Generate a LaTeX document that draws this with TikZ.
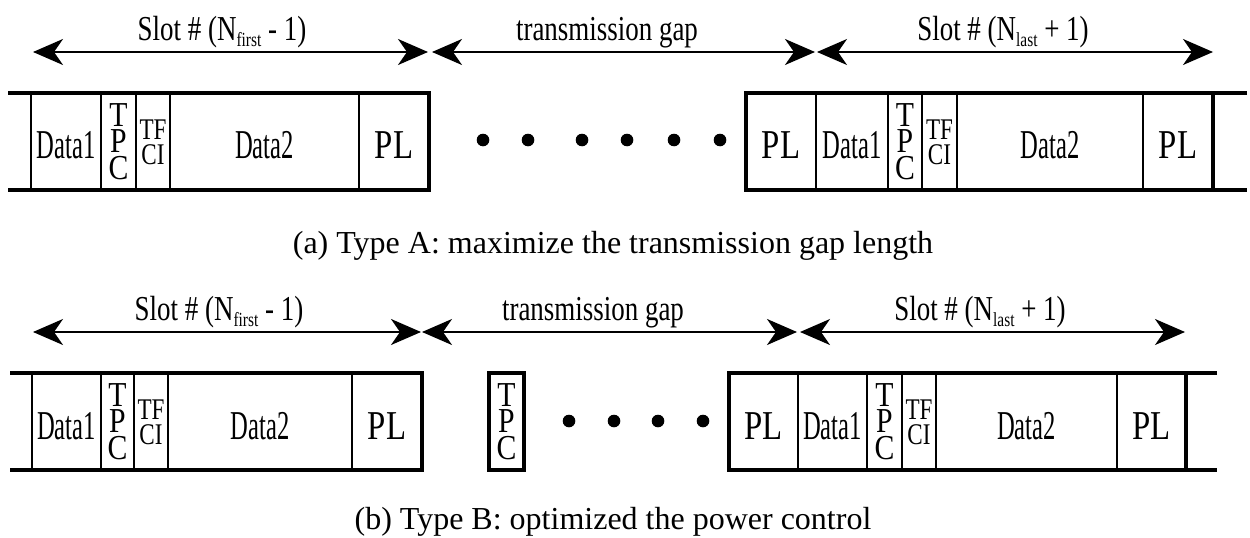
\documentclass[tikz,border=0pt]{standalone}
\usepackage{fontspec}
\setmainfont{Liberation Serif}
\usetikzlibrary{arrows.meta}

% condensed cuts of the serif face for the narrow field labels
\newfontfamily\dataface[FakeStretch=0.60]{Liberation Serif}
\newfontfamily\plface[FakeStretch=0.80]{Liberation Serif}
\newfontfamily\tpcface[FakeStretch=0.85]{Liberation Serif}
\newfontfamily\tfciface[FakeStretch=0.77]{Liberation Serif}
\newfontfamily\spanface[FakeStretch=0.77]{Liberation Serif}
% lowered small text used as a subscript in the slot labels
\newcommand\lowsub[1]{\raisebox{-6pt}{\fontsize{20}{20}\selectfont #1}}

\tikzset{
  frame/.style={line width=3.2pt},
  cellline/.style={line width=1.4pt},
  span/.style={line width=2pt,
    {Stealth[length=30pt,width=26pt,inset=9pt]}-{Stealth[length=30pt,width=26pt,inset=9pt]}},
  datatext/.style={inner sep=0pt, anchor=base, font=\dataface\fontsize{41}{41}\selectfont},
  pltext/.style={inner sep=0pt, anchor=base, font=\plface\fontsize{41}{41}\selectfont},
  tpctext/.style={inner sep=0pt, align=center, font=\tpcface\fontsize{35}{26.5}\selectfont},
  tfcitext/.style={inner sep=0pt, align=center, font=\tfciface\fontsize{30}{25}\selectfont},
  spanlabel/.style={inner sep=0pt, anchor=base, font=\spanface\fontsize{35}{40}\selectfont},
  caption/.style={inner sep=0pt, anchor=base, font=\fontsize{32}{38}\selectfont},
  dot/.style={circle, fill=black, inner sep=0pt, minimum size=12.6pt},
}

\begin{document}
\begin{tikzpicture}[x=1pt,y=-1pt]
\useasboundingbox (0,0) rectangle (1250,538);

% ---------------- (a) Type A ----------------
% span arrows
\coordinate (a-s1l) at (33,52);   \coordinate (a-s1r) at (428,52);
\coordinate (a-s2l) at (432,52);  \coordinate (a-s2r) at (815,52);
\coordinate (a-s3l) at (817,52);  \coordinate (a-s3r) at (1213,52);
\draw[span] (a-s1l) -- (a-s1r);
\draw[span] (a-s2l) -- (a-s2r);
\draw[span] (a-s3l) -- (a-s3r);
\node[spanlabel] (a-lab1) at (222,40) {Slot \# (N\lowsub{first} - 1)};
\node[spanlabel] (a-lab2) at (607,40) {transmission gap};
\node[spanlabel] (a-lab3) at (1003,40) {Slot \# (N\lowsub{last} + 1)};

% left slot
\foreach \x in {31,101,136,170,359}
  \draw[cellline] (\x,93) -- (\x,190);
\draw[frame] (8,93) -- (429,93) -- (429,190) -- (8,190);
\node[datatext] (a-d1) at (66,158) {Data1};
\node[tpctext] (a-tpc) at (118.5,141.5) {T\\P\\C};
\node[tfcitext] (a-tfci) at (153,142) {TF\\CI};
\node[datatext] (a-d2) at (264.5,158) {Data2};
\node[pltext] (a-pl) at (394,158) {PL};

% gap dots
\node[dot] (a-g1) at (483,140) {};
\node[dot] (a-g2) at (528,140) {};
\node[dot] (a-g3) at (582,140) {};
\node[dot] (a-g4) at (627,140) {};
\node[dot] (a-g5) at (674,140) {};
\node[dot] (a-g6) at (720,140) {};

% right slot
\foreach \x in {816,888,922,957,1143}
  \draw[cellline] (\x,93) -- (\x,190);
\draw[frame] (1247,93) -- (746,93) -- (746,190) -- (1247,190);
\draw[frame] (1213,93) -- (1213,190);
\node[pltext] (a-rpl0) at (781,158) {PL};
\node[datatext] (a-rd1) at (852,158) {Data1};
\node[tpctext] (a-rtpc) at (905,141.5) {T\\P\\C};
\node[tfcitext] (a-rtfci) at (939.5,142) {TF\\CI};
\node[datatext] (a-rd2) at (1050,158) {Data2};
\node[pltext] (a-rpl) at (1178,158) {PL};

\node[caption] (cap-a) at (613,253) {(a) Type A: maximize the transmission gap length};

% ---------------- (b) Type B ----------------
\coordinate (b-s1l) at (33,332);   \coordinate (b-s1r) at (421,332);
\coordinate (b-s2l) at (422,332);  \coordinate (b-s2r) at (797,332);
\coordinate (b-s3l) at (800,332);  \coordinate (b-s3r) at (1185,332);
\draw[span] (b-s1l) -- (b-s1r);
\draw[span] (b-s2l) -- (b-s2r);
\draw[span] (b-s3l) -- (b-s3r);
\node[spanlabel] (b-lab1) at (219,320) {Slot \# (N\lowsub{first} - 1)};
\node[spanlabel] (b-lab2) at (593,320) {transmission gap};
\node[spanlabel] (b-lab3) at (980,320) {Slot \# (N\lowsub{last} + 1)};

% left slot
\foreach \x in {32,101,134,168,352}
  \draw[cellline] (\x,373) -- (\x,470);
\draw[frame] (10,373) -- (422,373) -- (422,470) -- (10,470);
\node[datatext] (b-d1) at (66.5,439) {Data1};
\node[tpctext] (b-tpc) at (117.5,421.5) {T\\P\\C};
\node[tfcitext] (b-tfci) at (151,422) {TF\\CI};
\node[datatext] (b-d2) at (260,439) {Data2};
\node[pltext] (b-pl) at (387,439) {PL};

% power control field kept inside the gap
\draw[frame] (489,373) rectangle (524,470);
\node[tpctext] (b-gtpc) at (506.5,421.5) {T\\P\\C};

% gap dots
\node[dot] (b-g1) at (569,421) {};
\node[dot] (b-g2) at (614,421) {};
\node[dot] (b-g3) at (658,421) {};
\node[dot] (b-g4) at (703,421) {};

% right slot
\foreach \x in {798,867,902,936,1117}
  \draw[cellline] (\x,373) -- (\x,470);
\draw[frame] (1217,373) -- (729,373) -- (729,470) -- (1217,470);
\draw[frame] (1186,373) -- (1186,470);
\node[pltext] (b-rpl0) at (763.5,439) {PL};
\node[datatext] (b-rd1) at (832.5,439) {Data1};
\node[tpctext] (b-rtpc) at (884.5,421.5) {T\\P\\C};
\node[tfcitext] (b-rtfci) at (919,422) {TF\\CI};
\node[datatext] (b-rd2) at (1026.5,439) {Data2};
\node[pltext] (b-rpl) at (1151.5,439) {PL};

\node[caption] (cap-b) at (613,529) {(b) Type B: optimized the power control};
\end{tikzpicture}
\end{document}
